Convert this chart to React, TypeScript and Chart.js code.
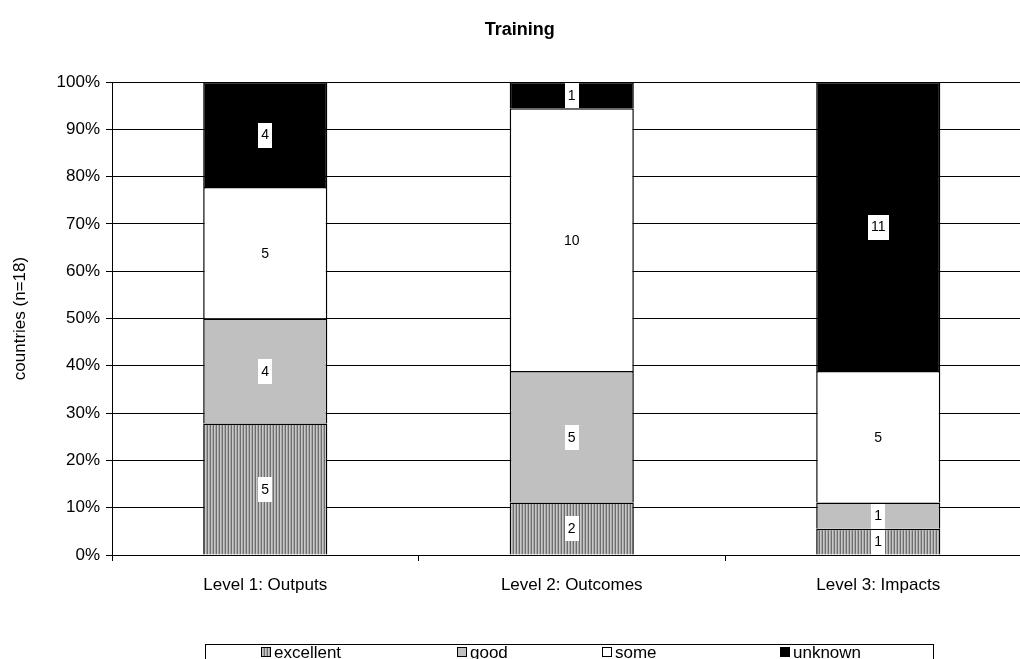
import React, { useEffect, useRef } from "react";
import { Chart, registerables } from "chart.js";

Chart.register(...registerables);

const categories = ["Level 1: Outputs", "Level 2: Outcomes", "Level 3: Impacts"];
const seriesNames = ["excellent", "good", "some", "unknown"];
const excellent = [5, 2, 1];
const good = [4, 5, 1];
const some = [5, 10, 5];
const unknown = [4, 1, 11];
const chartTitle = "Training";
const yTitle = "countries (n=18)";

const FONT = "'Liberation Sans', Arial, sans-serif";

function makeStripePattern(): CanvasPattern | string {
  const c = document.createElement("canvas");
  c.width = 3;
  c.height = 4;
  const g = c.getContext("2d");
  if (!g) return "#a0a0a0";
  g.fillStyle = "#c8c8c8";
  g.fillRect(0, 0, 3, 4);
  g.fillStyle = "#6e6e6e";
  g.fillRect(0, 0, 1, 4);
  g.fillStyle = "#a8a8a8";
  g.fillRect(2, 0, 1, 4);
  const p = g.createPattern(c, "repeat");
  return p || "#a0a0a0";
}

export default function App() {
  const ref = useRef<HTMLCanvasElement | null>(null);

  useEffect(() => {
    const canvas = ref.current;
    if (!canvas) return;
    const series = [excellent, good, some, unknown];
    const totals = categories.map((_, i) => series.reduce((s, arr) => s + arr[i], 0));
    const pct = (arr: number[]) => arr.map((v, i) => (v / totals[i]) * 100);
    const fills: (CanvasPattern | string)[] = [makeStripePattern(), "#c0c0c0", "#ffffff", "#000000"];

    const labelPlugin = {
      id: "segLabels",
      afterDatasetsDraw(chart: any) {
        const ctx = chart.ctx;
        ctx.save();
        ctx.font = `14px ${FONT}`;
        ctx.textAlign = "center";
        ctx.textBaseline = "middle";
        chart.data.datasets.forEach((ds: any, di: number) => {
          const meta = chart.getDatasetMeta(di);
          meta.data.forEach((el: any, i: number) => {
            const v = series[di][i];
            if (!v) return;
            const txt = String(v);
            const cy = (el.y + el.base) / 2;
            const w = ctx.measureText(txt).width;
            ctx.fillStyle = "#ffffff";
            ctx.fillRect(Math.round(el.x - w / 2 - 3), Math.round(cy - 12), Math.round(w + 6), 25);
            ctx.fillStyle = "#000000";
            ctx.fillText(txt, el.x, cy + 1);
          });
        });
        ctx.restore();
      },
    };

    const legendPlugin = {
      id: "boxLegend",
      afterDraw(chart: any) {
        const ctx = chart.ctx;
        ctx.save();
        ctx.strokeStyle = "#000000";
        ctx.lineWidth = 1;
        ctx.strokeRect(205.5, 644.5, 728, 30);
        const iconX = [261, 457, 602, 780];
        const y = 652;
        ctx.font = `17px ${FONT}`;
        ctx.textAlign = "left";
        ctx.textBaseline = "middle";
        seriesNames.forEach((name, i) => {
          const x = iconX[i];
          ctx.fillStyle = fills[i] as any;
          ctx.fillRect(x, y - 5, 10, 10);
          ctx.strokeStyle = "#000000";
          ctx.strokeRect(x + 0.5, y - 4.5, 9, 9);
          ctx.fillStyle = "#000000";
          ctx.fillText(name, x + 13, y + 1);
        });
        ctx.restore();
      },
    };

    const chart = new Chart(canvas, {
      type: "bar",
      data: {
        labels: categories,
        datasets: series.map((arr, i) => ({
          label: seriesNames[i],
          data: pct(arr),
          backgroundColor: fills[i] as any,
          borderColor: "#000000",
          borderWidth: 1.5,
          barPercentage: 0.405,
          categoryPercentage: 1,
        })),
      },
      options: {
        responsive: false,
        animation: false,
        devicePixelRatio: 1,
        layout: { padding: { left: 8, right: 8.5, top: 0, bottom: 50 } },
        plugins: {
          legend: { display: false },
          tooltip: { enabled: false },
          title: {
            display: true,
            text: chartTitle,
            color: "#000000",
            font: { family: FONT, size: 18, weight: "bold" },
            padding: { top: 19, bottom: 41.4 },
          },
        },
        scales: {
          x: {
            stacked: true,
            grid: {
              display: true,
              drawOnChartArea: false,
              drawTicks: true,
              offset: true,
              tickLength: 6,
              color: "#000000",
            },
            border: { display: true, color: "#000000", width: 1 },
            ticks: {
              color: "#000000",
              font: { family: FONT, size: 17 },
              padding: 14,
              maxRotation: 0,
            },
            afterFit(scale: any) {
              scale.height = 54;
            },
          },
          y: {
            stacked: true,
            min: 0,
            max: 100,
            grid: { color: "#000000", tickLength: 6, lineWidth: 1 },
            border: { display: true, color: "#000000", width: 1 },
            ticks: {
              stepSize: 10,
              color: "#000000",
              font: { family: FONT, size: 17 },
              padding: 6,
              callback: (v: any) => `${v}%`,
            },
            title: {
              display: true,
              text: yTitle,
              color: "#000000",
              font: { family: FONT, size: 17 },
              padding: { top: 2, bottom: 0 },
            },
            afterFit(scale: any) {
              scale.width = 104;
            },
          },
        },
      },
      plugins: [labelPlugin, legendPlugin],
    });
    return () => chart.destroy();
  }, []);

  return (
    <div style={{ position: "fixed", left: 0, top: 0, width: 1020, height: 659, overflow: "hidden", background: "#fff" }}>
      <canvas ref={ref} width={1040} height={659} style={{ display: "block", width: 1040, height: 659 }} />
    </div>
  );
}
